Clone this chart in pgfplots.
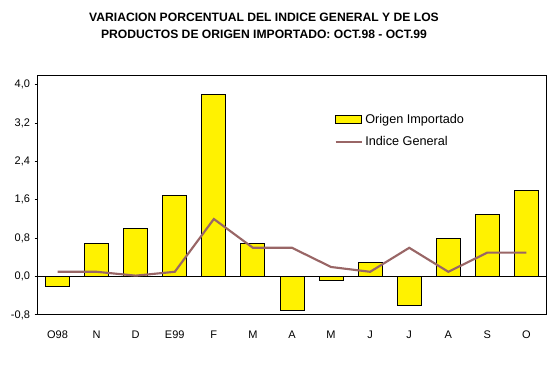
\documentclass[border=0pt]{standalone}
\usepackage{pgfplots}
\pgfplotsset{compat=1.18}
\usepackage{fontspec}
\setmainfont{Liberation Sans}
\definecolor{linecol}{HTML}{996666}
\begin{document}
\begin{tikzpicture}
\path[use as bounding box] (0pt,0pt) rectangle (412.5pt,286.5pt);
\node[font=\bfseries\fontsize{9.1}{10}\selectfont, align=center] at (198pt,267pt) {VARIACION PORCENTUAL DEL INDICE GENERAL Y DE LOS\\[2.5pt]PRODUCTOS DE ORIGEN IMPORTADO: OCT.98 - OCT.99};
\begin{axis}[
  at={(28.5pt,50.25pt)}, anchor=south west,
  scale only axis, width=381pt, height=180pt,
  xmin=-0.5, xmax=12.5, ymin=-0.8, ymax=4.2,
  xtick={0,...,12},
  xticklabels={O98,N,D,E99,F,M,A,M,J,J,A,S,O},
  ytick={-0.8,0,0.8,1.6,2.4,3.2,4.0},
  yticklabel style={/pgf/number format/.cd, fixed, fixed zerofill, precision=1, use comma, assume math mode=true},
  tick label style={font=\fontsize{8.25}{9}\selectfont},
  x tick style={draw=none},
  xticklabel style={yshift=-6pt},
  y tick style={black, line width=0.75pt},
  ytick pos=left, tick align=outside, major tick length=2.5pt,
  axis line style={line width=0.75pt},
  legend style={at={(0.578,0.86)}, anchor=north west, draw=none, fill=none, font=\fontsize{9.5}{10}\selectfont, row sep=4pt, legend cell align=left, inner xsep=2pt, nodes={inner xsep=2pt}},
]
\addplot[black, line width=0.75pt, forget plot] coordinates {(-0.5,0) (12.5,0)};
\addplot[ybar, bar width=18pt, fill=yellow, draw=black, line width=0.75pt,
  legend image code/.code={\draw[fill=yellow, draw=black, line width=0.75pt] (0pt,-3pt) rectangle (19.5pt,3pt);}]
  coordinates {(0,-0.2) (1,0.7) (2,1.0) (3,1.7) (4,3.8) (5,0.7) (6,-0.7) (7,-0.08) (8,0.3) (9,-0.6) (10,0.8) (11,1.3) (12,1.8)};
\addlegendentry{Origen Importado}
\addplot[linecol, line width=1.6pt, mark=none, sharp plot,
  legend image code/.code={\draw[linecol, line width=1.6pt] (0pt,0pt) -- (19.5pt,0pt);}]
  coordinates {(0,0.1) (1,0.1) (2,0.02) (3,0.1) (4,1.2) (5,0.6) (6,0.6) (7,0.2) (8,0.1) (9,0.6) (10,0.1) (11,0.5) (12,0.5)};
\addlegendentry{Indice General}
\end{axis}
\end{tikzpicture}
\end{document}
